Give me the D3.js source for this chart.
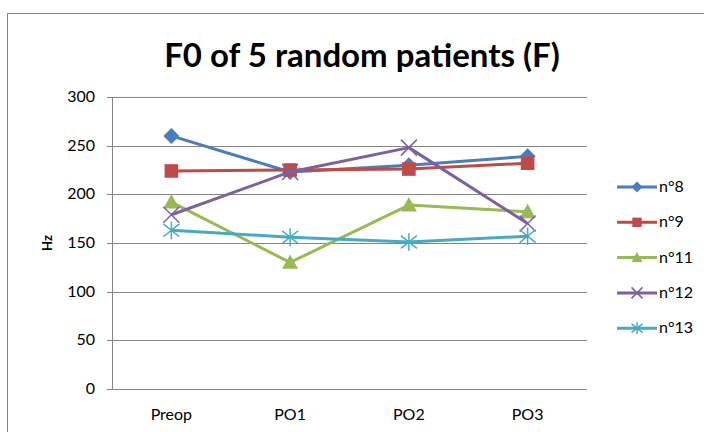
<!DOCTYPE html>
<html>
<head>
<meta charset="utf-8">
<script src="https://cdn.jsdelivr.net/npm/d3@7"></script>
<style>
  body { margin: 0; background: #fff; }
  svg { display: block; }
</style>
</head>
<body>
<div id="chart"></div>
<script>
// dati
var categories = ["Preop", "PO1", "PO2", "PO3"];
var seriesNames = ["n°8", "n°9", "n°11", "n°12", "n°13"];
var n8 = [260, 223, 230, 239];
var n9 = [224, 225, 226, 232];
var n11 = [192, 130, 189, 182];
var n12 = [179, 223, 248, 170];
var n13 = [163, 156, 151, 157];
var yTicks = [0, 50, 100, 150, 200, 250, 300];

var colors = ["#4A7EBB", "#BE4B48", "#98B954", "#7D60A0", "#46AAC5"];
var symbols = ["diamond", "square", "triangle", "cross", "star"];
var allValues = [n8, n9, n11, n12, n13];

var width = 704, height = 432;
var margin = { left: 112, top: 97, right: 704 - 587, bottom: 432 - 389 };

var svg = d3.select("#chart").append("svg")
  .attr("width", width)
  .attr("height", height);

// cornice esterna
svg.append("rect")
  .attr("x", 7.5).attr("y", 13.5)
  .attr("width", 720).attr("height", 440)
  .attr("fill", "none")
  .attr("stroke", "#868686")
  .attr("stroke-width", 1);

svg.append("text")
  .attr("x", 362).attr("y", 67)
  .attr("text-anchor", "middle")
  .attr("font-family", "Lato, 'Open Sans', sans-serif")
  .attr("font-weight", "bold")
  .attr("font-size", "33px")
  .text("F0 of 5 random patients (F)");

var x = d3.scalePoint()
  .domain(categories)
  .range([margin.left, width - margin.right])
  .padding(0.5);

var y = d3.scaleLinear()
  .domain([0, 300])
  .range([height - margin.bottom, margin.top]);

// griglia
svg.append("g")
  .selectAll("line")
  .data(yTicks)
  .enter()
  .append("line")
  .attr("x1", margin.left - 5)
  .attr("x2", width - margin.right)
  .attr("y1", (d) => Math.round(y(d)) + 0.5)
  .attr("y2", (d) => Math.round(y(d)) + 0.5)
  .attr("stroke", "#868686")
  .attr("stroke-width", 1);

svg.append("line")
  .attr("x1", margin.left + 0.5).attr("x2", margin.left + 0.5)
  .attr("y1", margin.top).attr("y2", height - margin.bottom)
  .attr("stroke", "#868686");

// etichette asse y
svg.append("g")
  .selectAll("text")
  .data(yTicks)
  .enter()
  .append("text")
  .attr("x", 95)
  .attr("y", (d) => y(d) + 5)
  .attr("text-anchor", "end")
  .attr("font-family", "Lato, 'Open Sans', sans-serif")
  .attr("font-size", "16px")
  .text((d) => d);

// etichette asse x
svg.append("g")
  .selectAll("text")
  .data(categories)
  .enter()
  .append("text")
  .attr("x", (d) => x(d))
  .attr("y", 420)
  .attr("text-anchor", "middle")
  .attr("font-family", "Lato, 'Open Sans', sans-serif")
  .attr("font-size", "16px")
  .text((d) => d);

svg.append("text")
  .attr("transform", "translate(52,243) rotate(-90)")
  .attr("text-anchor", "middle")
  .attr("font-family", "Lato, 'Open Sans', sans-serif")
  .attr("font-weight", "bold")
  .attr("font-size", "13px")
  .text("Hz");

// simboli marker
function drawMarker(g, type, color, s) {
  if (type === "diamond") {
    g.append("path")
      .attr("d", `M0,${-s}L${s},0L0,${s}L${-s},0Z`)
      .attr("fill", color);
  } else if (type === "square") {
    g.append("rect")
      .attr("x", -s * 0.85).attr("y", -s * 0.85)
      .attr("width", s * 1.7).attr("height", s * 1.7)
      .attr("fill", color);
  } else if (type === "triangle") {
    g.append("path")
      .attr("d", `M0,${-s}L${s},${s * 0.8}L${-s},${s * 0.8}Z`)
      .attr("fill", color);
  } else if (type === "cross") {
    g.append("path")
      .attr("d", `M${-s},${-s}L${s},${s}M${-s},${s}L${s},${-s}`)
      .attr("stroke", color)
      .attr("stroke-width", 1.5);
  } else if (type === "star") {
    g.append("path")
      .attr("d", `M${-s},${-s * 0.8}L${s},${s * 0.8}M${-s},${s * 0.8}L${s},${-s * 0.8}M0,${-s * 1.1}L0,${s * 1.1}`)
      .attr("stroke", color)
      .attr("stroke-width", 1.5);
  }
}

var line = d3.line()
  .x((d, i) => x(categories[i]))
  .y((d) => y(d));

allValues.forEach((vals, k) => {
  svg.append("path")
    .datum(vals)
    .attr("d", line)
    .attr("fill", "none")
    .attr("stroke", colors[k])
    .attr("stroke-width", 3)
    .attr("stroke-linejoin", "round");

  vals.forEach((v, i) => {
    var g = svg.append("g")
      .attr("transform", `translate(${x(categories[i])},${y(v)})`);
    drawMarker(g, symbols[k], colors[k], 8);
  });
});

// legenda
var legend = svg.append("g");
seriesNames.forEach((name, k) => {
  var ly = 187 + k * 35.3;
  legend.append("line")
    .attr("x1", 617).attr("x2", 657)
    .attr("y1", ly).attr("y2", ly)
    .attr("stroke", colors[k])
    .attr("stroke-width", 3);
  var g = legend.append("g").attr("transform", `translate(637,${ly})`);
  drawMarker(g, symbols[k], colors[k], 5.5);
  legend.append("text")
    .attr("x", 659).attr("y", ly + 5)
    .attr("font-family", "Lato, 'Open Sans', sans-serif")
    .attr("font-size", "16px")
    .text(name);
});
</script>
</body>
</html>
